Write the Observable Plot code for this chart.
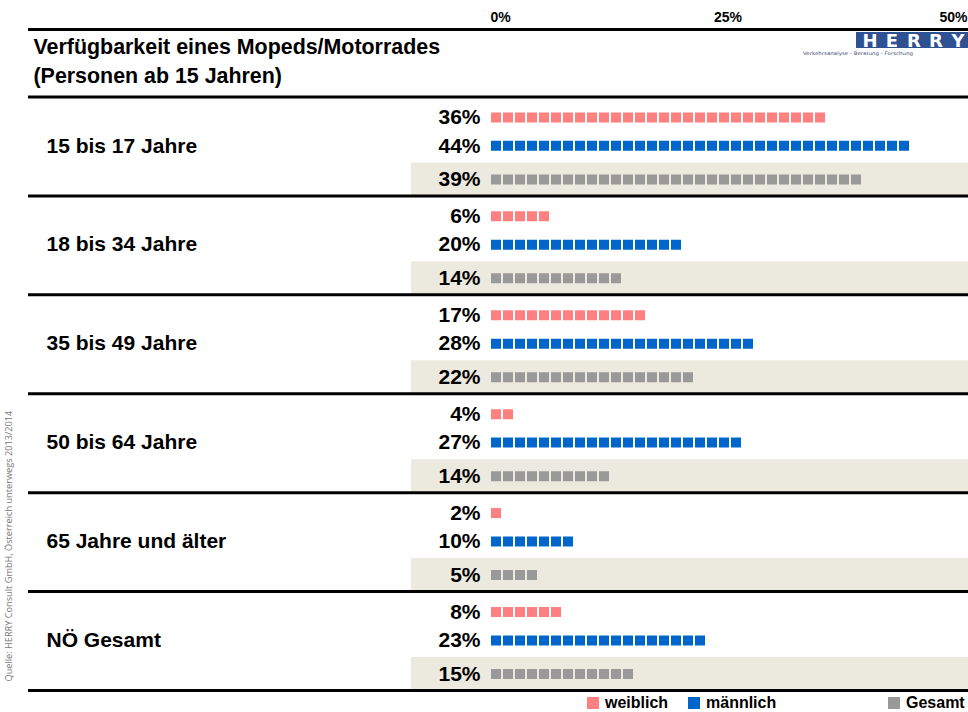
<!DOCTYPE html>
<html>
<head>
<meta charset="utf-8">
<script src="https://cdn.jsdelivr.net/npm/d3@7"></script>
<script src="https://cdn.jsdelivr.net/npm/@observablehq/plot@0.6"></script>
<style>
  html, body { margin: 0; padding: 0; background: #fff; }
  #wrap { width: 968px; position: relative; font-family: "Liberation Sans", Arial, sans-serif; }
  #legend { position: relative; width: 968px; height: 19px; font-weight: bold; font-size: 16px; color: #000; }
  .li { position: absolute; top: 0; height: 19px; display: flex; align-items: center; }
  .sw { width: 12px; height: 12px; margin-right: 6px; display: inline-block; }
</style>
</head>
<body>
<div id="wrap"></div>
<script>
// ---------- data (percent of persons 15+ with a moped/motorbike available) ----------
const groups = ["15 bis 17 Jahre", "18 bis 34 Jahre", "35 bis 49 Jahre", "50 bis 64 Jahre", "65 Jahre und älter", "NÖ Gesamt"];
const weiblich = [36, 6.3, 17, 3.5, 2, 8];
const maennlich = [44, 20, 28, 27, 9.6, 23];
const gesamt = [39, 14, 22, 13.5, 5, 15];
const seriesNames = ["weiblich", "männlich", "Gesamt"];
const seriesColors = ["#ff8080", "#0066cc", "#999999"];
const xTicks = [0, 25, 50];
const titleLines = ["Verfügbarkeit eines Mopeds/Motorrades", "(Personen ab 15 Jahren)"];
const source = "Quelle: HERRY Consult GmbH, Österreich unterwegs 2013/2014";

// ---------- layout constants ----------
const rowOffset = {"weiblich": 0.62, "männlich": 1.48, "Gesamt": 2.5};
const pxPerPct = 9.5, squarePitch = 12, squareGap = 2;

const values = [weiblich, maennlich, gesamt];
const rows = [];
groups.forEach((g, gi) => seriesNames.forEach((s, si) => rows.push({group: g, gi, series: s, value: values[si][gi]})));
const yPos = d => d.gi * 3 + rowOffset[d.series];
// pictogram: whole squares that fit into the bar length
const barEnd = d => {
  const n = Math.floor((d.value * pxPerPct + squareGap) / squarePitch);
  return Math.max(0, n * squarePitch - squareGap) / pxPerPct;
};

const font = "Liberation Sans, Arial, sans-serif";
const chart = Plot.plot({
  width: 968, height: 693,
  marginLeft: 28, marginRight: 0, marginTop: 0, marginBottom: 0,
  x: {domain: [0, 50], range: [491, 491 + 50 * pxPerPct], axis: null},
  y: {domain: [0, groups.length * 3], range: [96.5, 690], axis: null},
  color: {domain: seriesNames, range: seriesColors},
  style: {fontFamily: font, background: "#fff", color: "#000", overflow: "visible"},
  marks: [
    // beige band behind Gesamt rows
    Plot.rect(rows.filter(d => d.series === "Gesamt"), {
      x1: () => -8.42, x2: () => 51, y1: d => d.gi * 3 + 2, y2: d => d.gi * 3 + 3, fill: "#ece9df"
    }),
    // group separators
    Plot.ruleY(d3.range(0, groups.length * 3 + 1, 3), {stroke: "#000", strokeWidth: 3}),
    Plot.ruleY([0], {dy: -67.5, stroke: "#000", strokeWidth: 3}),
    // bars as rows of squares
    Plot.ruleY(rows, {
      y: yPos, x1: () => 0, x2: barEnd, stroke: "series",
      strokeWidth: 10, strokeDasharray: `${squarePitch - squareGap},${squareGap}`
    }),
    // percent labels
    Plot.text(rows, {
      x: () => 0, y: yPos, text: d => Math.round(d.value) + "%", textAnchor: "end", dx: -11,
      fontSize: 21, fontWeight: "bold", fill: "#000"
    }),
    // group labels
    Plot.text(groups, {
      y: (d, i) => i * 3 + 1.48, text: d => d, frameAnchor: "left", textAnchor: "start", dx: 18,
      fontSize: 21, fontWeight: "bold", fill: "#000"
    }),
    // title
    Plot.text([titleLines.join("\n")], {
      frameAnchor: "top-left", textAnchor: "start", lineAnchor: "middle", dx: 5, dy: 58.5,
      lineHeight: 1.38, fontSize: 21.4, fontWeight: "bold", fill: "#000"
    }),
    // top axis labels
    Plot.text([xTicks[0]], {x: d => d, text: d => d + "%", frameAnchor: "top", dy: 17, dx: -1, lineAnchor: "middle", textAnchor: "start", fontSize: 14, fontWeight: "bold"}),
    Plot.text(xTicks.slice(1, -1), {x: d => d, text: d => d + "%", frameAnchor: "top", dy: 17, dx: -1, lineAnchor: "middle", textAnchor: "middle", fontSize: 14, fontWeight: "bold"}),
    Plot.text([xTicks[xTicks.length - 1]], {x: d => d, text: d => d + "%", frameAnchor: "top", dy: 17, dx: 1, lineAnchor: "middle", textAnchor: "end", fontSize: 14, fontWeight: "bold"}),
    // source, rotated
    Plot.text([source], {
      frameAnchor: "bottom-left", rotate: -90, textAnchor: "start", lineAnchor: "middle",
      dx: -19, dy: -12, fontSize: 9.2, fontFamily: "Open Sans", fontWeight: "normal", fill: "#777"
    })
  ]
});

// HERRY logo (decoration)
const svg = d3.select(chart);
const logo = svg.append("g").attr("transform", "translate(856,32)");
logo.append("rect").attr("width", 112).attr("height", 16).attr("fill", "#2d5192");
const letters = "HERRY".split("");
logo.selectAll("text.l").data(letters).join("text").attr("class", "l")
  .attr("x", (d, i) => 14 + i * 22).attr("y", 14.5).attr("text-anchor", "middle")
  .attr("fill", "#fff").attr("font-family", "DejaVu Sans").attr("font-weight", "bold")
  .attr("font-size", 18)
  .text(d => d);
logo.append("text").attr("x", 2).attr("y", 22.5).attr("fill", "#3a4a6a")
  .attr("font-family", "DejaVu Sans").attr("font-size", 4.8).attr("textLength", 110)
  .attr("lengthAdjust", "spacingAndGlyphs").text("Verkehrsanalyse - Beratung - Forschung");

const wrap = document.getElementById("wrap");
wrap.appendChild(chart);

// legend
const legend = document.createElement("div");
legend.id = "legend";
const legendLeft = [587, 688, 888];
seriesNames.forEach((s, i) => {
  const item = document.createElement("div");
  item.className = "li";
  item.style.left = legendLeft[i] + "px";
  item.innerHTML = `<span class="sw" style="background:${seriesColors[i]}"></span><span>${s}</span>`;
  legend.appendChild(item);
});
wrap.appendChild(legend);
</script>
</body>
</html>
